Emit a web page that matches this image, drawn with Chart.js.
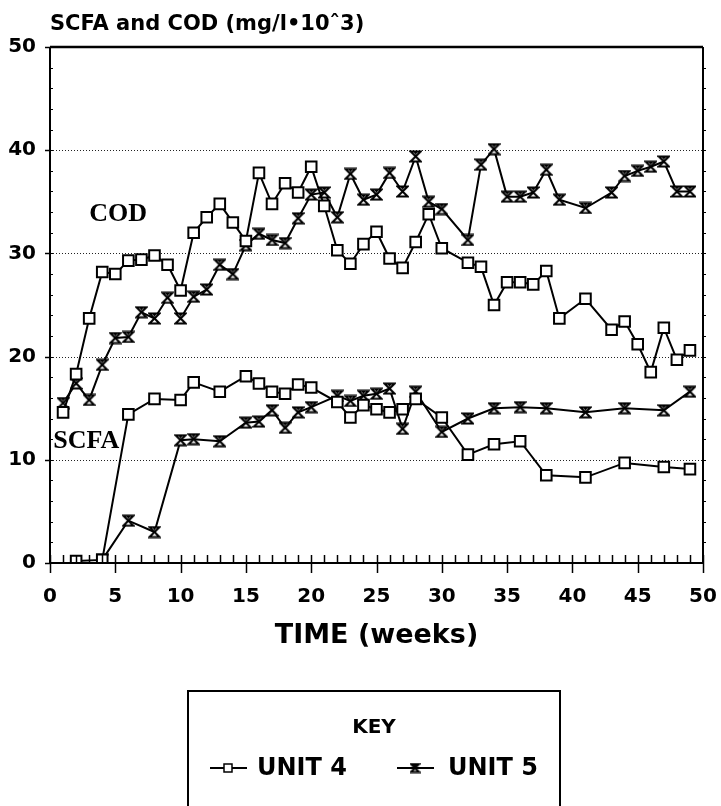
<!DOCTYPE html>
<html><head><meta charset="utf-8">
<script src="https://cdn.jsdelivr.net/npm/chart.js@4.4.1/dist/chart.umd.min.js"></script>
<style>html,body{margin:0;padding:0;background:#fff;}#wrap{width:721px;height:806px;position:relative;}</style>
</head><body><div id="wrap"><canvas id="c" width="721" height="806"></canvas></div>
<script>
// ---- data (weeks, mg/l x10^3) ----
const codWeeks = [1,2,3,4,5,6,7,8,9,10,11,12,13,14,15,16,17,18,19,20,21,22,23,24,25,26,27,28,29,30,32,33,34,35,36,37,38,39,41,43,44,45,46,47,48,49];
const codUnit4 = [14.6,18.3,23.7,28.2,28.0,29.3,29.4,29.8,28.9,26.4,32.0,33.5,34.8,33.0,31.2,37.8,34.8,36.8,35.9,38.4,34.6,30.3,29.0,30.9,32.1,29.5,28.6,31.1,33.8,30.5,29.1,28.7,25.0,27.2,27.2,27.0,28.3,23.7,25.6,22.6,23.4,21.2,18.5,22.8,19.7,20.6];
const codUnit5 = [15.5,17.4,15.8,19.2,21.8,21.9,24.3,23.7,25.7,23.7,25.8,26.5,28.9,28.0,30.8,31.9,31.3,31.0,33.4,35.7,35.9,33.5,37.7,35.2,35.7,37.8,36.0,39.4,35.0,34.3,31.3,38.6,40.1,35.5,35.5,35.9,38.1,35.2,34.4,35.9,37.5,38.0,38.4,38.9,36.0,36.0];
const scfaWeeks4 = [2,4,6,8,10,11,13,15,16,17,18,19,20,22,23,24,25,26,27,28,30,32,34,36,38,41,44,47,49];
const scfaUnit4 = [0.2,0.3,14.4,15.9,15.8,17.5,16.6,18.1,17.4,16.6,16.4,17.3,17.0,15.6,14.1,15.3,14.9,14.6,14.9,15.9,14.1,10.5,11.5,11.8,8.5,8.3,9.7,9.3,9.1];
const scfaWeeks5 = [4,6,8,10,11,13,15,16,17,18,19,20,22,23,24,25,26,27,28,30,32,34,36,38,41,44,47,49];
const scfaUnit5 = [0.3,4.1,3.0,11.9,12.0,11.8,13.6,13.7,14.8,13.1,14.6,15.1,16.2,15.7,16.2,16.4,16.9,13.0,16.6,12.7,14.0,15.0,15.1,15.0,14.6,15.0,14.8,16.6];
const xTicks = [0,5,10,15,20,25,30,35,40,45,50];
const yTicks = [0,10,20,30,40,50];
const seriesNames = ['UNIT 4','UNIT 5'];
const chartTitle = 'SCFA and COD (mg/l\u202210\u02c63)';
const xTitle = 'TIME (weeks)';
const notes = [{text:'COD', x:3.0, y:33.8},{text:'SCFA', x:0.25, y:11.8}];

const FONT = "'DejaVu Sans'";
function pts(xs, ys){ return xs.map((x,i)=>({x:x, y:ys[i]})); }
function hourglass(s){
  const c=document.createElement('canvas'); c.width=s; c.height=s;
  const g=c.getContext('2d');
  g.lineWidth=2; g.strokeStyle='#000'; g.fillStyle='#fff';
  g.beginPath(); g.moveTo(1.5,1.5); g.lineTo(s-1.5,1.5); g.lineTo(1.5,s-1.5); g.lineTo(s-1.5,s-1.5); g.closePath();
  g.fill(); g.stroke();
  g.beginPath(); g.moveTo(s/2-2,2); g.lineTo(s/2+2,2); g.lineTo(s/2,5); g.closePath(); g.fillStyle='#000'; g.fill();
  return c;
}
const hg = hourglass(13);
const hgSmall = hourglass(11);

function ds(label, data, unit){
  const sq = unit===4;
  return {label:label, data:data, borderColor:'#000', borderWidth:2, tension:0,
    pointStyle: sq ? 'rect' : hg, pointRadius: sq ? 7.5 : 6.5, pointBorderWidth:2,
    pointBackgroundColor:'#fff', pointBorderColor:'#000', fill:false};
}

const decor = {
  id:'decor',
  beforeDatasetsDraw(chart){
    const {ctx, chartArea:a, scales:{x,y}} = chart;
    ctx.save();
    ctx.strokeStyle='#222'; ctx.lineWidth=1; ctx.setLineDash([1,2]);
    yTicks.forEach(v=>{ if(v>0 && v<50){ const py=Math.round(y.getPixelForValue(v))+0.5; ctx.beginPath(); ctx.moveTo(a.left,py); ctx.lineTo(a.right,py); ctx.stroke(); }});
    ctx.restore();
  },
  afterDatasetsDraw(chart){
    const {ctx, chartArea:a, scales:{x,y}} = chart;
    ctx.save();
    ctx.strokeStyle='#000'; ctx.lineWidth=2;
    ctx.beginPath();
    ctx.moveTo(a.left,a.top); ctx.lineTo(a.left,a.bottom); ctx.lineTo(a.right,a.bottom); ctx.lineTo(a.right,a.top);
    ctx.stroke();
    ctx.lineWidth=2.5; ctx.beginPath(); ctx.moveTo(a.left,a.top); ctx.lineTo(a.right,a.top); ctx.stroke();
    ctx.lineWidth=1.5;
    for(let w=0; w<=50; w++){
      const px=Math.round(x.getPixelForValue(w))+0.5;
      ctx.beginPath(); ctx.moveTo(px,a.bottom); ctx.lineTo(px,a.bottom-8); ctx.stroke();
      if(w%5===0){ ctx.beginPath(); ctx.moveTo(px,a.bottom); ctx.lineTo(px,a.bottom+10); ctx.stroke(); }
    }
    for(let v=2; v<50; v+=2){
      const py=Math.round(y.getPixelForValue(v))+0.5;
      ctx.lineWidth=1; ctx.beginPath(); ctx.moveTo(a.left,py); ctx.lineTo(a.left+3,py); ctx.stroke();
      ctx.beginPath(); ctx.moveTo(a.right,py); ctx.lineTo(a.right+3,py); ctx.stroke();
    }
    yTicks.forEach(v=>{ const py=Math.round(y.getPixelForValue(v))+0.5; ctx.lineWidth=1.5; ctx.beginPath(); ctx.moveTo(a.left-5,py); ctx.lineTo(a.left,py); ctx.stroke(); });
    ctx.restore();
  },
  afterDraw(chart){
    const {ctx, chartArea:a, scales:{x,y}} = chart;
    ctx.save();
    ctx.fillStyle='#000';
    ctx.font = "bold 21px "+FONT; ctx.textBaseline='alphabetic'; ctx.textAlign='left';
    ctx.fillText(chartTitle, a.left, 30);
    ctx.font = "bold 26px 'Liberation Serif'"; ctx.textBaseline='middle';
    notes.forEach(n=>ctx.fillText(n.text, x.getPixelForValue(n.x), y.getPixelForValue(n.y)));
    // key box
    const bx=188, bw=372, by=691;
    ctx.lineWidth=2; ctx.strokeStyle='#000';
    ctx.strokeRect(bx, by, bw, 130);
    ctx.font="bold 20px "+FONT; ctx.textAlign='center'; ctx.textBaseline='middle';
    ctx.fillText('KEY', bx+bw/2, 728);
    const ly=768;
    const items=[{x0:210, tx:257, name:seriesNames[0], sq:true},{x0:397, tx:448, name:seriesNames[1], sq:false}];
    items.forEach(it=>{
      ctx.lineWidth=2; ctx.beginPath(); ctx.moveTo(it.x0,ly); ctx.lineTo(it.x0+37,ly); ctx.stroke();
      const cx=it.x0+18;
      if(it.sq){ ctx.fillStyle='#fff'; ctx.fillRect(cx-4,ly-4,8,8); ctx.lineWidth=1.5; ctx.strokeRect(cx-4,ly-4,8,8); }
      else { ctx.drawImage(hgSmall, cx-5.5, ly-5.5); }
      ctx.fillStyle='#000'; ctx.textAlign='left'; ctx.font="bold 24px "+FONT;
      ctx.fillText(it.name, it.tx, ly+1);
    });
    ctx.restore();
  }
};

new Chart(document.getElementById('c'), {
  type:'line',
  data:{ datasets:[
    ds('COD '+seriesNames[0], pts(codWeeks, codUnit4), 4),
    ds('COD '+seriesNames[1], pts(codWeeks, codUnit5), 5),
    ds('SCFA '+seriesNames[0], pts(scfaWeeks4, scfaUnit4), 4),
    ds('SCFA '+seriesNames[1], pts(scfaWeeks5, scfaUnit5), 5)
  ]},
  options:{
    responsive:false, animation:false, devicePixelRatio:1,
    layout:{padding:{top:47, right:18, left:0, bottom:143}},
    plugins:{legend:{display:false}, tooltip:{enabled:false}},
    scales:{
      x:{type:'linear', min:0, max:50, afterBuildTicks:s=>{s.ticks=xTicks.map(v=>({value:v}));},
        afterFit:s=>{s.height=100; s.paddingLeft=0; s.paddingRight=0;},
        grid:{display:false}, border:{display:false},
        ticks:{color:'#000', padding:14, maxRotation:0, font:{family:FONT, size:20, weight:'bold'}},
        title:{display:true, text:xTitle, color:'#000', padding:{top:0,bottom:11}, font:{family:FONT, size:27, weight:'bold'}}},
      y:{min:0, max:50, afterBuildTicks:s=>{s.ticks=yTicks.map(v=>({value:v}));},
        afterFit:s=>{s.width=50; s.paddingTop=0; s.paddingBottom=0;},
        grid:{display:false}, border:{display:false},
        ticks:{color:'#000', padding:6, font:{family:FONT, size:20, weight:'bold'}}}
    }
  },
  plugins:[decor]
});
</script></body></html>
